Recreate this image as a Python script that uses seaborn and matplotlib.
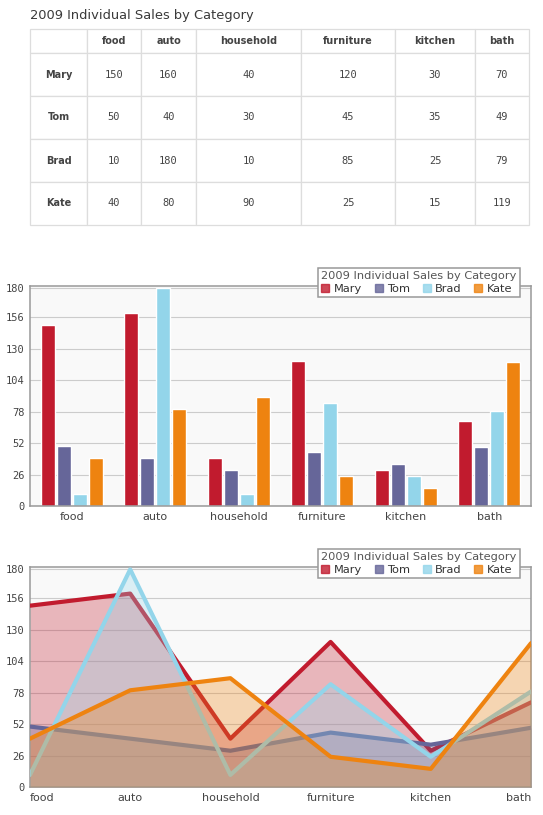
import numpy as np
import pandas as pd
import seaborn as sns
import matplotlib.pyplot as plt
from matplotlib.lines import Line2D

# data
categories = ["food", "auto", "household", "furniture", "kitchen", "bath"]
people = ["Mary", "Tom", "Brad", "Kate"]
mary = [150, 160, 40, 120, 30, 70]
tom = [50, 40, 30, 45, 35, 49]
brad = [10, 180, 10, 85, 25, 79]
kate = [40, 80, 90, 25, 15, 119]
colors = ["#c11b2e", "#666699", "#93d5ea", "#ee8310"]
yticks = [0, 26, 52, 78, 104, 130, 156, 180]
chart_title = "2009 Individual Sales by Category"

series = [mary, tom, brad, kate]

sns.set_style("white")
plt.rcParams["font.family"] = ["DejaVu Sans"]

W, H = 543, 815
fig = plt.figure(figsize=(W / 100, H / 100), dpi=100)
fig.patch.set_facecolor("white")


def px_axes(left, top, right, bottom):
    return fig.add_axes([left / W, 1 - bottom / H, (right - left) / W, (bottom - top) / H])


# ---- table ----
fig.text(30 / W, 1 - 15 / H, chart_title, fontsize=9.4, color="#3a3a3a", va="center", ha="left")
ax1 = px_axes(30, 29, 529, 225)
ax1.axis("off")
cell_text = [[""] + categories]
for name, vals in zip(people, series):
    cell_text.append([name] + [str(v) for v in vals])
col_px = [57, 54, 55, 105, 94, 80, 54]
col_w = [c / sum(col_px) for c in col_px]
tbl = ax1.table(cellText=cell_text, colWidths=col_w, cellLoc="center", bbox=[0, 0, 1, 1])
tbl.auto_set_font_size(False)
for (r, c), cell in tbl.get_celld().items():
    cell.set_edgecolor("#dddddd")
    cell.set_linewidth(0.9)
    cell.set_height(24 if r == 0 else 43)
    txt = cell.get_text()
    txt.set_color("#444444")
    if r == 0 or c == 0:
        txt.set_fontweight("bold")
        txt.set_fontsize(7)
    else:
        txt.set_family("DejaVu Sans Mono")
        txt.set_fontsize(7.5)


def style_axes(ax):
    ax.set_facecolor("#f9f9f9")
    for s in ax.spines.values():
        s.set_visible(True)
        s.set_color("#999999")
        s.set_linewidth(1.1)
    ax.set_ylim(0, 182)
    ax.set_yticks(yticks)
    ax.set_yticklabels([str(t) for t in yticks], family="DejaVu Sans Mono", fontsize=7.5, color="#444444")
    ax.grid(axis="y", color="#cccccc", linewidth=0.8)
    ax.set_axisbelow(True)
    ax.tick_params(length=0, colors="#444444")
    ax.tick_params(axis="y", pad=4)
    ax.tick_params(axis="x", pad=4, labelsize=8)
    ax.set_xlabel("")
    ax.set_ylabel("")


def add_legend(top_px):
    handles = [Line2D([], [], marker="s", linestyle="none", markersize=5.5,
                      markerfacecolor=c, markeredgecolor=c, alpha=0.8) for c in colors]
    leg = fig.legend(handles, people, title=chart_title, loc="upper right",
                     bbox_to_anchor=(520 / W, 1 - top_px / H), ncol=4, frameon=True,
                     fancybox=False, framealpha=1, edgecolor="#999999", fontsize=8.2,
                     title_fontsize=8.2, alignment="left", handlelength=0.7,
                     handletextpad=0.4, columnspacing=1.1, borderpad=0.3,
                     labelspacing=0.2, borderaxespad=0)
    leg.get_frame().set_linewidth(1.1)
    leg.get_title().set_color("#555555")
    for t in leg.get_texts():
        t.set_color("#333333")


# ---- bar chart ----
df = pd.DataFrame({
    "category": categories * len(people),
    "person": [p for p in people for _ in categories],
    "sales": mary + tom + brad + kate,
})
ax2 = px_axes(30, 286, 531, 506)
sns.barplot(data=df, x="category", y="sales", hue="person", palette=colors,
            width=0.76, gap=0.12, saturation=1, errorbar=None, legend=False, ax=ax2)
style_axes(ax2)
ax2.set_xticks(range(len(categories)))
ax2.set_xticklabels(categories, color="#444444")
add_legend(268)

# ---- area/line chart ----
ax3 = px_axes(30, 567, 531, 787)
x = np.arange(len(categories))
for i, (vals, c) in enumerate(zip(series, colors)):
    # each series: fill then its line, stacked so later fills tint earlier lines
    ax3.fill_between(x, vals, 0, color=c, alpha=0.3, linewidth=0, zorder=2 + 2 * i)
    sns.lineplot(x=x, y=vals, color=c, linewidth=3, ax=ax3, zorder=3 + 2 * i)
style_axes(ax3)
ax3.set_xlim(0, len(categories) - 1)
ax3.set_xticks(x)
ax3.set_xticklabels(categories, color="#444444")
labels = ax3.get_xticklabels()
labels[0].set_ha("left")
labels[-1].set_ha("right")
add_legend(549)

fig.savefig("out.png", dpi=100, facecolor="white")
